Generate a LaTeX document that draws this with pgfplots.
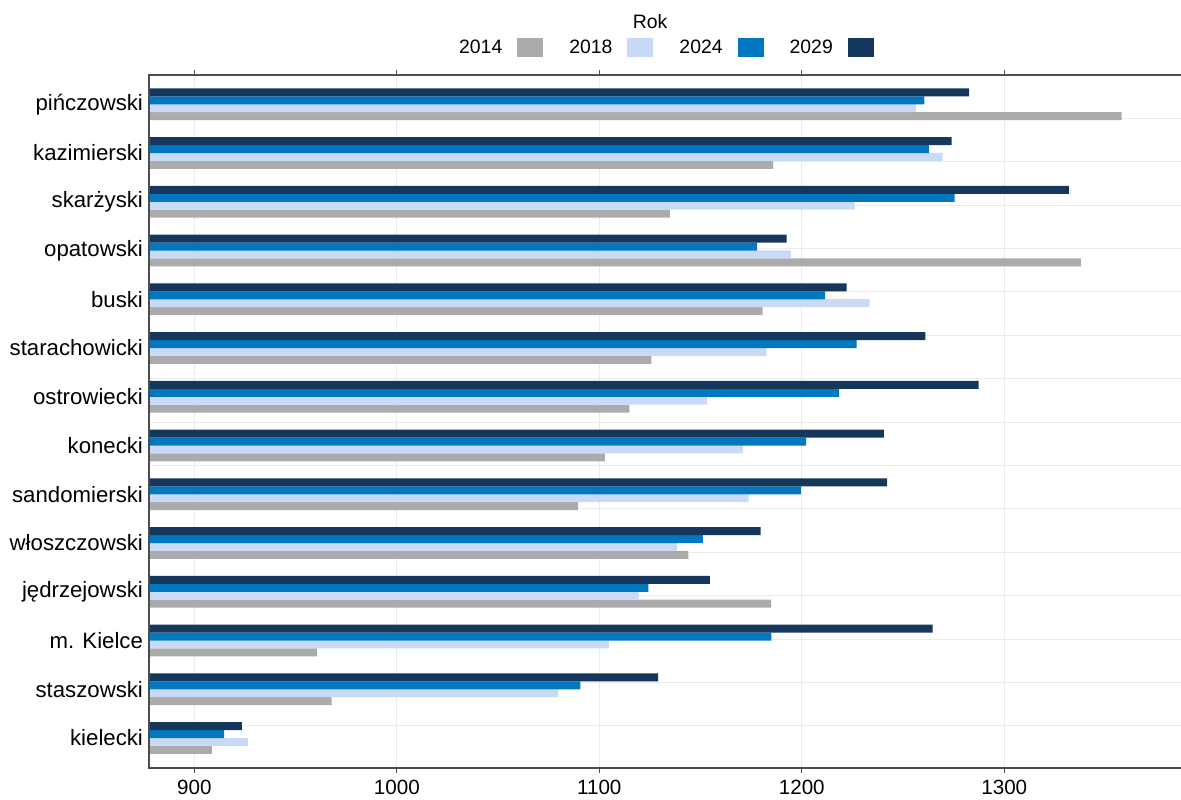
\documentclass[border=0pt]{standalone}
\usepackage{pgfplots}
\usepackage{pgfplotstable}
\pgfplotsset{compat=1.18}
\usepackage{fontspec}
\setmainfont{Liberation Sans}

\definecolor{c14}{HTML}{ABABAB}
\definecolor{c18}{HTML}{C8DAF5}
\definecolor{c24}{HTML}{0077BE}
\definecolor{c29}{HTML}{16375C}
\definecolor{gridc}{HTML}{EBEBEB}
\definecolor{axc}{HTML}{4D4D4D}

% y: category position (0 = kielecki at the bottom)
\pgfplotstableread{
y v14 v18 v24 v29
0 908.7 926.4 914.7 923.5
1 967.8 1079.6 1090.7 1129.0
2 960.6 1104.8 1185.0 1264.6
3 1184.8 1119.4 1124.2 1154.6
4 1144.0 1138.4 1151.1 1179.7
5 1089.6 1173.8 1199.6 1242.1
6 1102.7 1171.0 1202.2 1240.6
7 1114.8 1153.2 1218.5 1287.4
8 1125.7 1182.5 1227.1 1261.0
9 1180.7 1233.5 1211.5 1222.2
10 1337.9 1194.7 1177.9 1192.5
11 1134.9 1226.1 1275.5 1331.9
12 1185.8 1269.6 1262.8 1274.0
13 1358.0 1256.4 1260.5 1282.6
}\data

\begin{document}
\begin{tikzpicture}
\begin{axis}[
    name=ax,
    scale only axis,
    width=516pt, height=346.5pt,
    xbar, bar width=0.1625,
    xmin=877.6, xmax=1387.3,
    ymin=-0.615, ymax=13.6,
    xtick={900,1000,1100,1200,1300},
    xtick pos=both, xticklabel pos=lower,
    tick align=outside, major tick length=2.5pt,
    x tick style={axc, line width=0.5pt},
    xmajorgrids, grid style={gridc, line width=0.5pt},
    ytick={0,...,13},
    yticklabels={kielecki, staszowski, m. Kielce, jędrzejowski, włoszczowski, sandomierski, konecki, ostrowiecki, starachowicki, buski, opatowski, skarżyski, kazimierski, pińczowski},
    y tick style={draw=none},
    extra y ticks={0.25,1.14,2.03,2.92,3.81,4.70,5.59,6.48,7.37,8.26,9.15,10.04,10.93,11.82,12.71},
    extra y tick labels={},
    extra y tick style={grid=major, tick style={draw=none}},
    axis line style={draw=none},
    /pgf/number format/assume math mode=true,
    /pgf/number format/1000 sep={},
    x tick label style={font=\fontsize{10.3}{12}\selectfont, text=black},
    y tick label style={font=\fontsize{11.1}{13}\selectfont, text=black, xshift=3pt},
    legend columns=4, legend plot pos=right,
    legend style={draw=none, fill=none, at={(0.4995,1.039)}, anchor=center,
        font=\fontsize{9.7}{11}\selectfont,
        /tikz/every even column/.append style={column sep=11pt}},
    legend image code/.code={\path (0pt,0pt); \fill[#1] (5.5pt,-4.75pt) rectangle (18.5pt,4.75pt);},
]
\addplot[fill=c14, draw=none, bar shift=-0.244] table[x=v14, y=y] {\data};
\addlegendentry{2014}
\addplot[fill=c18, draw=none, bar shift=-0.081] table[x=v18, y=y] {\data};
\addlegendentry{2018}
\addplot[fill=c24, draw=none, bar shift=0.081] table[x=v24, y=y] {\data};
\addlegendentry{2024}
\addplot[fill=c29, draw=none, bar shift=0.244] table[x=v29, y=y] {\data};
\addlegendentry{2029}
\end{axis}
\draw[axc, line width=0.6pt] (ax.north east) -- (ax.north west) -- (ax.south west) -- (ax.south east);
\node[font=\fontsize{9.7}{11}\selectfont] at ([xshift=250.5pt, yshift=26.5pt]ax.north west) {Rok};
\pgfresetboundingbox
\path[use as bounding box] ([shift={(-74.5pt,-15.5pt)}]ax.south west) rectangle ([shift={(0pt,37.5pt)}]ax.north east);
\end{tikzpicture}
\end{document}
